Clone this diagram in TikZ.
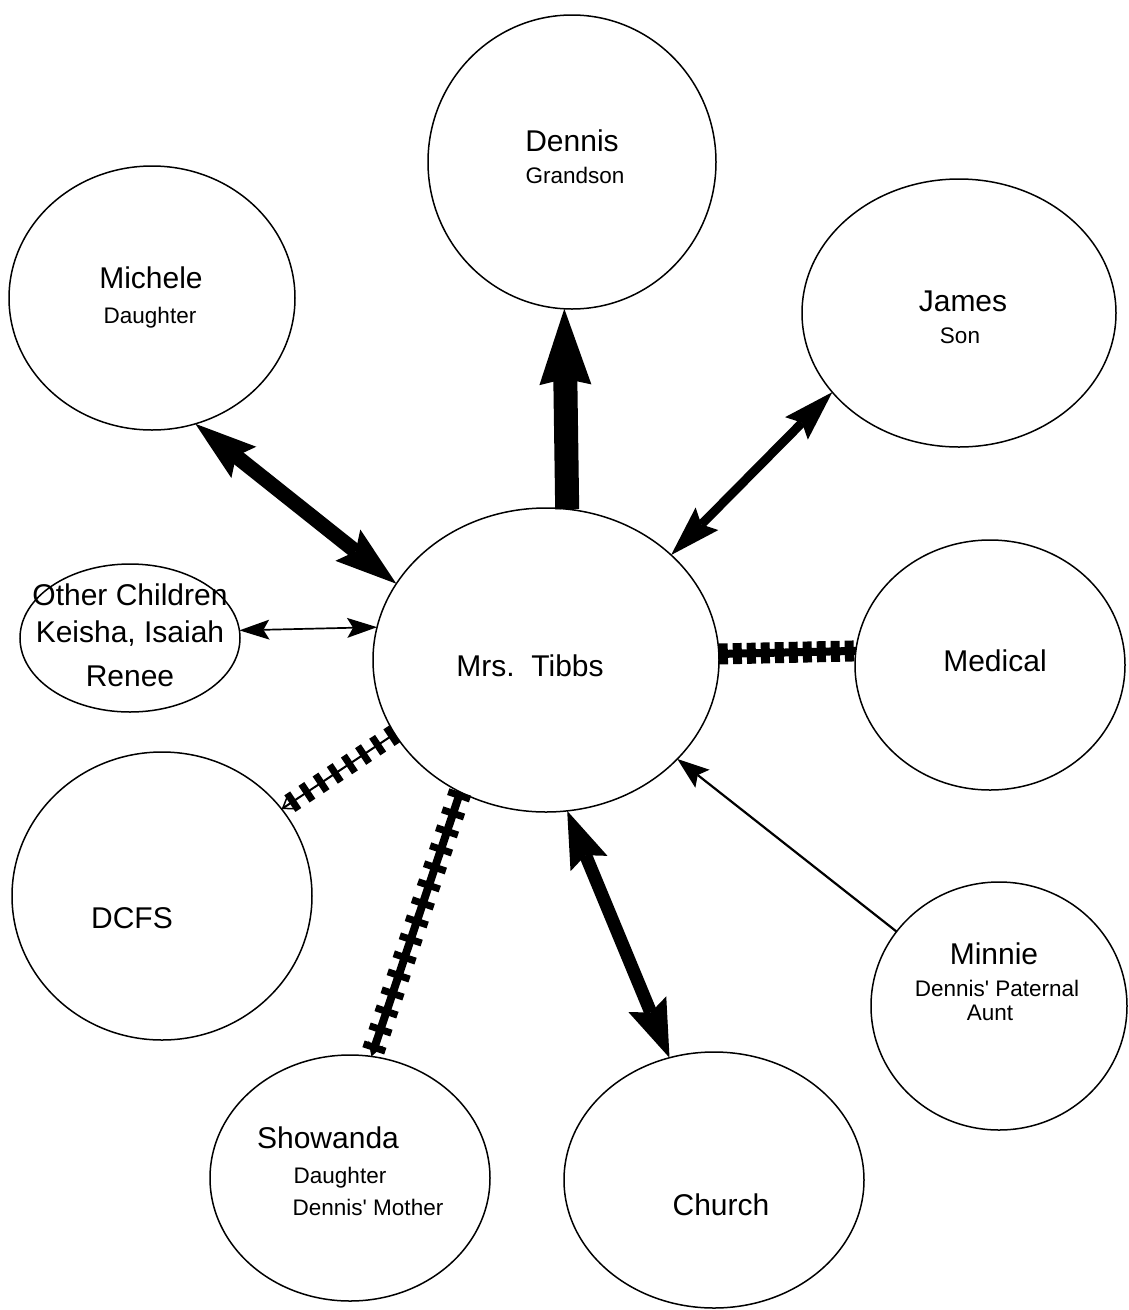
\documentclass[tikz,border=0pt]{standalone}
\usepackage{fontspec}
\setmainfont{Liberation Sans}[Ligatures=TeXOff]
\usetikzlibrary{arrows.meta,shapes.geometric}
\begin{document}
\begin{tikzpicture}[x=1pt,y=-1pt,
  circ/.style={draw, ellipse, line width=1.5pt, inner sep=0pt, outer sep=0pt},
  big/.style={font=\fontsize{30}{36}\selectfont, anchor=base, inner sep=0pt},
  small/.style={font=\fontsize{22.5}{27}\selectfont, anchor=base, inner sep=0pt},
  hatchcore/.style={line width=#1},
  hatchbars/.style n args={3}{line width=#1, dash pattern=on #2 off #3}
]
\useasboundingbox (0,0) rectangle (1128,1310);

% circles
\node[circ, minimum width=288pt, minimum height=294pt] (dennis)   at (572,162) {};
\node[circ, minimum width=286pt, minimum height=264pt] (michele)  at (152,298) {};
\node[circ, minimum width=314pt, minimum height=268pt] (james)    at (959,313) {};
\node[circ, minimum width=220pt, minimum height=148pt] (other)    at (130,638) {};
\node[circ, minimum width=346pt, minimum height=304pt] (tibbs)    at (546,660) {};
\node[circ, minimum width=270pt, minimum height=250pt] (medical)  at (990,665) {};
\node[circ, minimum width=300pt, minimum height=288pt] (dcfs)     at (162,896) {};
\node[circ, minimum width=256pt, minimum height=248pt] (minnie)   at (999,1006) {};
\node[circ, minimum width=280pt, minimum height=246pt] (showanda) at (350,1178) {};
\node[circ, minimum width=300pt, minimum height=256pt] (church)   at (714,1180) {};

% labels
\node[big]   (tDennis)   at (572,151)  {Dennis};
\node[small] (tGrandson) at (575,183)  {Grandson};
\node[big]   (tMichele)  at (151,288)  {Michele};
\node[small] (tDaughterA) at (150,323) {Daughter};
\node[big]   (tJames)    at (963,311)  {James};
\node[small] (tSon)      at (960,343)  {Son};
\node[big]   (tOther1)   at (130,605)  {Other Children};
\node[big]   (tOther2)   at (130,642)  {Keisha, Isaiah};
\node[big]   (tOther3)   at (130,686)  {Renee};
\node[big]   (tTibbs)    at (530,676)  {Mrs.\ \ Tibbs};
\node[big]   (tMedical)  at (995,671)  {Medical};
\node[big]   (tDCFS)     at (132,928)  {DCFS};
\node[big]   (tMinnie)   at (994,964)  {Minnie};
\node[small] (tPaternal) at (997,996)  {Dennis' Paternal};
\node[small] (tAunt)     at (990,1020) {Aunt};
\node[big]   (tShowanda) at (328,1148) {Showanda};
\node[small] (tDaughterB) at (340,1183) {Daughter};
\node[small] (tMother)   at (368,1215) {Dennis' Mother};
\node[big]   (tChurch)   at (721,1215) {Church};

% arrows
\draw[line width=24pt, -{Stealth[length=76pt,width=52pt,inset=6pt,line width=0pt]}]
  (tibbs.82.9) -- (dennis.267.3);
\draw[line width=15pt, {Stealth[length=62pt,width=40pt,inset=10pt,line width=0pt]}-{Stealth[length=62pt,width=40pt,inset=10pt,line width=0pt]}]
  (michele.289) -- (tibbs.153.1);
\draw[line width=9pt, {Stealth[length=51pt,width=32pt,inset=8pt,line width=0pt]}-{Stealth[length=51pt,width=32pt,inset=8pt,line width=0pt]}]
  (james.212.1) -- (tibbs.40.6);
\draw[line width=1.7pt, {Stealth[length=30pt,width=20pt,inset=6pt,line width=0pt]}-{Stealth[length=30pt,width=20pt,inset=6pt,line width=0pt]}]
  (other.4.6) -- (tibbs.169.5);
\draw[line width=13pt, {Stealth[length=57pt,width=40pt,inset=9pt,line width=0pt]}-{Stealth[length=58pt,width=41pt,inset=9pt,line width=0pt]}]
  (tibbs.278.7) -- (church.110);
\draw[line width=2.2pt, -{Stealth[length=32pt,width=23pt,inset=6pt,line width=0pt]}]
  (minnie.144.6) -- (tibbs.323.8);

% hatched connectors
\draw[hatchcore=8pt] (tibbs.2.3) -- (medical.174.9);
\draw[hatchbars={21pt}{9pt}{5pt}] (tibbs.2.3) -- (medical.174.9);
\draw[hatchcore=2pt, -{Straight Barb[length=10pt,width=14pt,line width=1.5pt]}] (tibbs.206.7) -- (dcfs.36.6);
\draw[hatchbars={20pt}{7pt}{10pt}] (tibbs.206.7) -- (dcfs.36.6);
\draw[hatchcore=8pt, -{Stealth[length=14pt,width=16pt,line width=0pt]}] (tibbs.237.5) -- (showanda.80.7);
\draw[hatchbars={23pt}{7pt}{12pt}] (tibbs.237.5) -- (showanda.80.7);
\end{tikzpicture}
\end{document}
